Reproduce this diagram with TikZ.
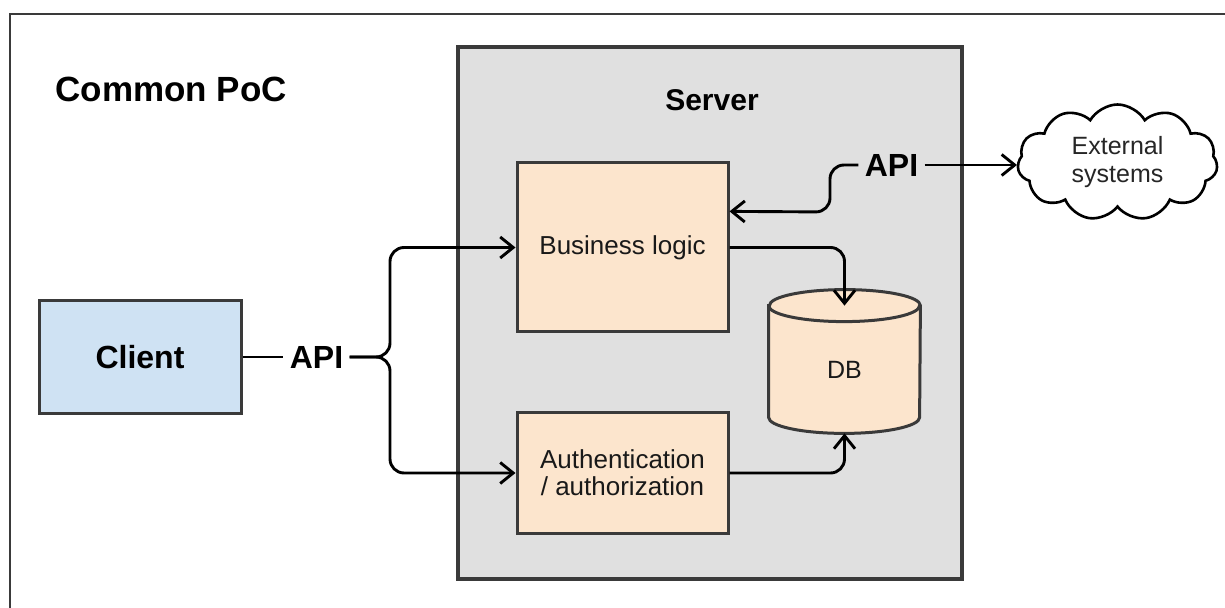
\documentclass[tikz,border=0pt]{standalone}
\usepackage{fontspec}
\setmainfont{Liberation Sans}
\usetikzlibrary{arrows.meta,shapes.symbols,calc}
\definecolor{peach}{HTML}{FCE5CD}
\definecolor{cblue}{HTML}{CFE2F3}
\definecolor{srvgray}{HTML}{E0E0E0}
\definecolor{edgec}{HTML}{3A3A3A}
\pgfdeclarelayer{back}
\pgfdeclarelayer{mid}
\pgfsetlayers{back,mid,main}
\begin{document}
\begin{tikzpicture}[x=0.5pt,y=-0.5pt,
  box/.style={draw=edgec, line width=1.5pt, inner sep=0pt, align=center},
  conn/.style={draw=black, line width=1.45pt, rounded corners=7pt},
  arr/.style={conn, -{Straight Barb[length=6.5pt,width=10.5pt]}},
  lbl/.style={font=\fontsize{16}{19}\selectfont\bfseries, inner sep=3pt},
  body/.style={font=\fontsize{13}{13.5}\selectfont, text=black!90}
]
\useasboundingbox (0,0) rectangle (1225,608);
\begin{pgfonlayer}{back}
\fill[white] (0,0) rectangle (1225,608);
\begin{scope}
\clip (0,0) rectangle (1225,608);
\draw[draw=edgec, line width=1.4pt] (10,14) rectangle (1260,640);
\end{scope}
\node[box, fill=srvgray, line width=1.6pt, minimum width=252pt, minimum height=266pt] (server) at (710,313) {};
\end{pgfonlayer}

\node[font=\fontsize{17.5}{21}\selectfont\bfseries, anchor=west, inner sep=0pt] (title) at (55,89) {Common PoC};
\node[font=\fontsize{15}{18}\selectfont\bfseries] (srvlabel) at (712,100) {Server};

\node[box, fill=cblue, minimum width=101pt, minimum height=56.5pt, font=\fontsize{16}{19}\selectfont\bfseries] (client) at (140,357) {Client};
\node[box, body, fill=peach, minimum width=105.5pt, minimum height=84.5pt] (bl) at (622.5,247.5) {Business logic};
\node[box, body, fill=peach, minimum width=105.5pt, minimum height=60pt] (auth) at (622.5,473) {Authentication\\/ authorization};
\node[font=\fontsize{12.5}{15}\selectfont, text=black!90, minimum width=75.5pt, minimum height=63.5pt, inner sep=0pt] (db) at (844.5,369.5) {DB};
\begin{pgfonlayer}{mid}
\filldraw[fill=peach, draw=edgec, line width=1.5pt] (db.north west) -- ([yshift=8pt]db.south west) arc[start angle=180, end angle=360, x radius=37.75pt, y radius=8pt] -- (db.north east) arc[start angle=0, end angle=180, x radius=37.75pt, y radius=8pt] -- cycle;
\draw[draw=edgec, line width=1.5pt] (db.north west) arc[start angle=180, end angle=360, x radius=37.75pt, y radius=8pt];
\end{pgfonlayer}

\node[cloud, cloud puffs=11, cloud puff arc=120, cloud ignores aspect, draw=black, line width=1.3pt, fill=white, minimum width=100pt, minimum height=58pt, align=center, font=\fontsize{12.5}{14}\selectfont, text=black!85] (ext) at (1117.5,162.5) {External\\systems};

\node[lbl] (api1) at (316.5,357) {API};
\node[lbl] (api2) at (891.5,165) {API};

\coordinate (blin) at ($(bl.north east)!0.29!(bl.south east)$);

\draw[conn] (client.east) -- (api1.west);
\draw[arr] (api1.east) -- (390,357) |- (bl.west);
\draw[arr] (api1.east) -- (390,357) |- (auth.west);
\draw[arr] (api2.west) -| (830,212) -- (blin);
\draw[arr] (api2.east) -- (api2.east -| ext.west);
\draw[arr] (bl.east) -| (db.north);
\draw[arr] (auth.east) -| (db.south);
\end{tikzpicture}
\end{document}
